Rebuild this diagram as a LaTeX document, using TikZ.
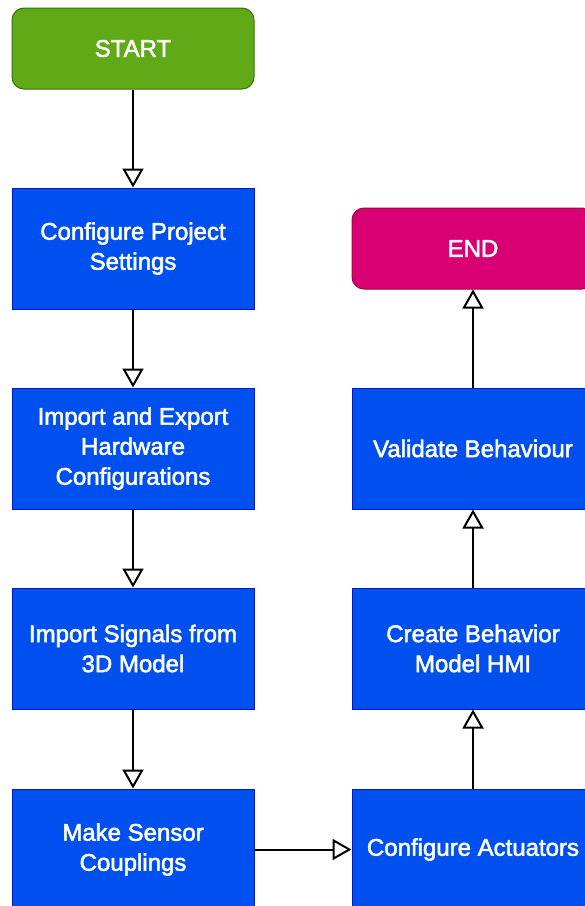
\documentclass[tikz,border=0pt]{standalone}
\usepackage{fontspec}
\setmainfont{Liberation Sans}
\newfontfamily\heavyfont{Liberation Sans}[FakeBold=2.2]
\usetikzlibrary{arrows.meta}
\definecolor{gfill}{HTML}{60A917}
\definecolor{gdraw}{HTML}{2D7600}
\definecolor{bfill}{HTML}{0050EF}
\definecolor{bdraw}{HTML}{001DBC}
\definecolor{pfill}{HTML}{D80073}
\definecolor{pdraw}{HTML}{A50040}
\tikzset{
  stepbox/.style={draw=bdraw, fill=bfill, line width=1pt, minimum width=242pt, minimum height=121pt,
    inner sep=0pt, align=center, text=white, font=\heavyfont\fontsize{24}{30}\selectfont},
  termbox/.style={line width=1pt, rounded corners=12pt, minimum width=242pt, minimum height=81pt,
    inner sep=0pt, align=center, text=white, font=\heavyfont\fontsize{24}{30}\selectfont},
  flow/.style={draw=black, line width=2pt, -{Triangle[open, width=21pt, length=19pt, line width=2pt]}}
}
\begin{document}
\begin{tikzpicture}[x=1pt, y=-1pt]
\useasboundingbox (0,0) rectangle (585,906);
\clip (0,0) rectangle (585,906);
\fill[white] (0,0) rectangle (585,906);
\node[termbox, draw=gdraw, fill=gfill] (start) at (133,48.5) {START};
\node[stepbox] (cps) at (133,248.5) {Configure Project\\Settings};
\node[stepbox] (iehc) at (133,448.5) {Import and Export\\Hardware\\Configurations};
\node[stepbox] (isd) at (133,648.5) {Import Signals from\\3D Model};
\node[stepbox] (msc) at (133,849.5) {Make Sensor\\Couplings};
\node[stepbox] (ca) at (473,849.5) {Configure Actuators};
\node[stepbox] (cbm) at (473,648.5) {Create Behavior\\Model HMI};
\node[stepbox] (vb) at (473,448.5) {Validate Behaviour};
\node[termbox, draw=pdraw, fill=pfill] (end) at (473,248.5) {END};
\draw[flow] (start.south) -- (cps.north);
\draw[flow] (cps.south) -- (iehc.north);
\draw[flow] (iehc.south) -- (isd.north);
\draw[flow] (isd.south) -- (msc.north);
\draw[flow] (msc.east) -- (ca.west);
\draw[flow] (ca.north) -- (cbm.south);
\draw[flow] (cbm.north) -- (vb.south);
\draw[flow] (vb.north) -- (end.south);
\end{tikzpicture}
\end{document}
